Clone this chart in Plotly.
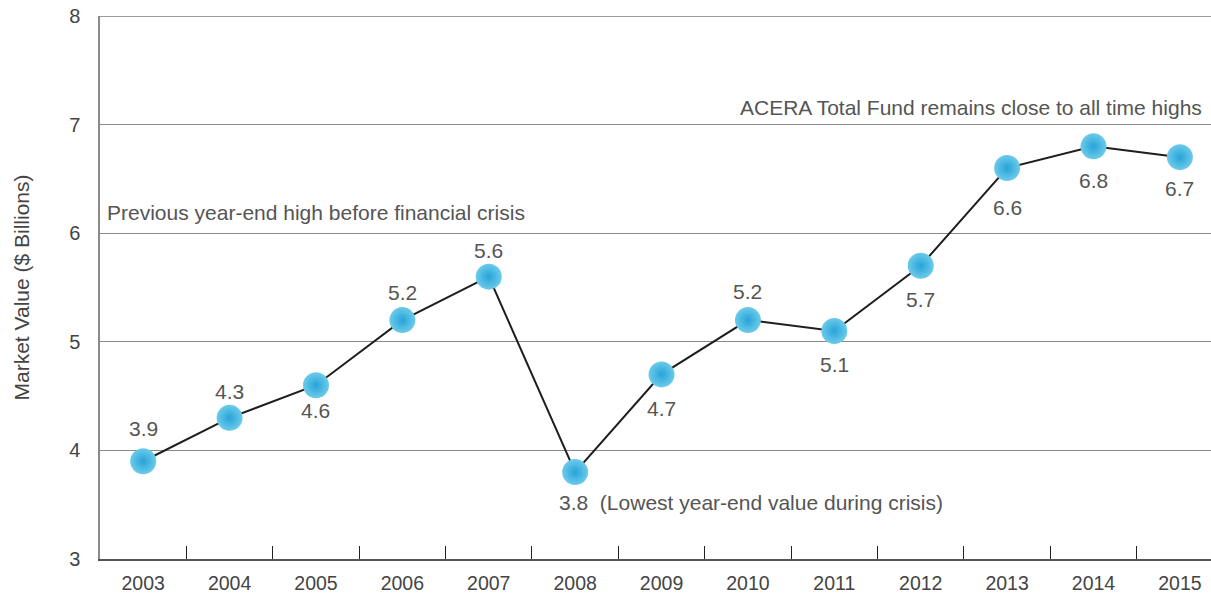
import plotly.graph_objects as go

years = ["2003", "2004", "2005", "2006", "2007", "2008", "2009", "2010", "2011", "2012", "2013", "2014", "2015"]
values = [3.9, 4.3, 4.6, 5.2, 5.6, 3.8, 4.7, 5.2, 5.1, 5.7, 6.6, 6.8, 6.7]
y_ticks = [3, 4, 5, 6, 7, 8]
# vertical pixel offset of each value label from its point (positive = above)
label_shift = [33, 26, -25, 28, 26, -30, -34, 29, -34, -34, -39, -34, -31]

FONT = "Liberation Sans"
TXT = "#555555"
TICK = "#444444"

fig = go.Figure()
fig.add_trace(go.Scatter(
    x=years, y=values, mode="lines+markers",
    line=dict(color="#1e1e1e", width=2),
    marker=dict(size=26, color="#6ccbe9",
                gradient=dict(type="radial", color="#27a3da"),
                line=dict(width=0)),
    hoverinfo="x+y", showlegend=False, cliponaxis=False,
))

for i, (yr, v, dy) in enumerate(zip(years, values, label_shift)):
    if yr == "2008":
        fig.add_annotation(x=i, y=v, text=f"{v}  (Lowest year-end value during crisis)",
                           showarrow=False, xanchor="left", yanchor="middle",
                           xshift=-18, yshift=dy,
                           font=dict(family=FONT, size=21, color=TXT))
    else:
        fig.add_annotation(x=i, y=v, text=f"{v}", showarrow=False,
                           xanchor="center", yanchor="middle", yshift=dy,
                           font=dict(family=FONT, size=21, color=TXT))

fig.add_annotation(xref="paper", yref="y", x=0, y=6, xshift=5, yshift=21,
                   text="Previous year-end high before financial crisis", showarrow=False,
                   xanchor="left", yanchor="middle",
                   font=dict(family=FONT, size=21, color=TXT))
fig.add_annotation(xref="paper", yref="y", x=1, y=7, xshift=-7, yshift=17,
                   text="ACERA Total Fund remains close to all time highs", showarrow=False,
                   xanchor="right", yanchor="middle",
                   font=dict(family=FONT, size=21, color=TXT))

# top border line at the upper end of the value axis
fig.add_shape(type="line", xref="paper", yref="y", x0=0, x1=1, y0=y_ticks[-1], y1=y_ticks[-1],
              line=dict(color="#7a7a7a", width=1.5))

fig.update_layout(
    width=1211, height=596,
    margin=dict(l=100, r=0, t=16, b=37),
    paper_bgcolor="white", plot_bgcolor="white",
    font=dict(family=FONT, color=TXT),
    xaxis=dict(
        type="category", range=[-0.5, 12.36],
        tickson="boundaries", ticks="inside", ticklen=13, tickcolor="#222222", tickwidth=1,
        showline=True, linecolor="#555555", linewidth=2,
        showgrid=False, zeroline=False,
        tickfont=dict(family=FONT, size=19.5, color=TICK),
        ticklabelstandoff=6,
    ),
    yaxis=dict(
        range=[3, 8], tickvals=y_ticks, ticktext=[str(t) for t in y_ticks],
        showgrid=True, gridcolor="#8a8a8a", gridwidth=1,
        showline=True, linecolor="#8a8a8a", linewidth=1.5,
        zeroline=False, ticks="",
        tickfont=dict(family=FONT, size=20, color=TICK),
        ticklabelstandoff=14,
        title=dict(text="Market Value ($ Billions)", standoff=34,
                   font=dict(family=FONT, size=21, color=TICK)),
    ),
)

fig.write_html("out.html", config={"displayModeBar": False},
               post_script="document.body.style.margin='0';document.body.style.overflow='hidden';")
